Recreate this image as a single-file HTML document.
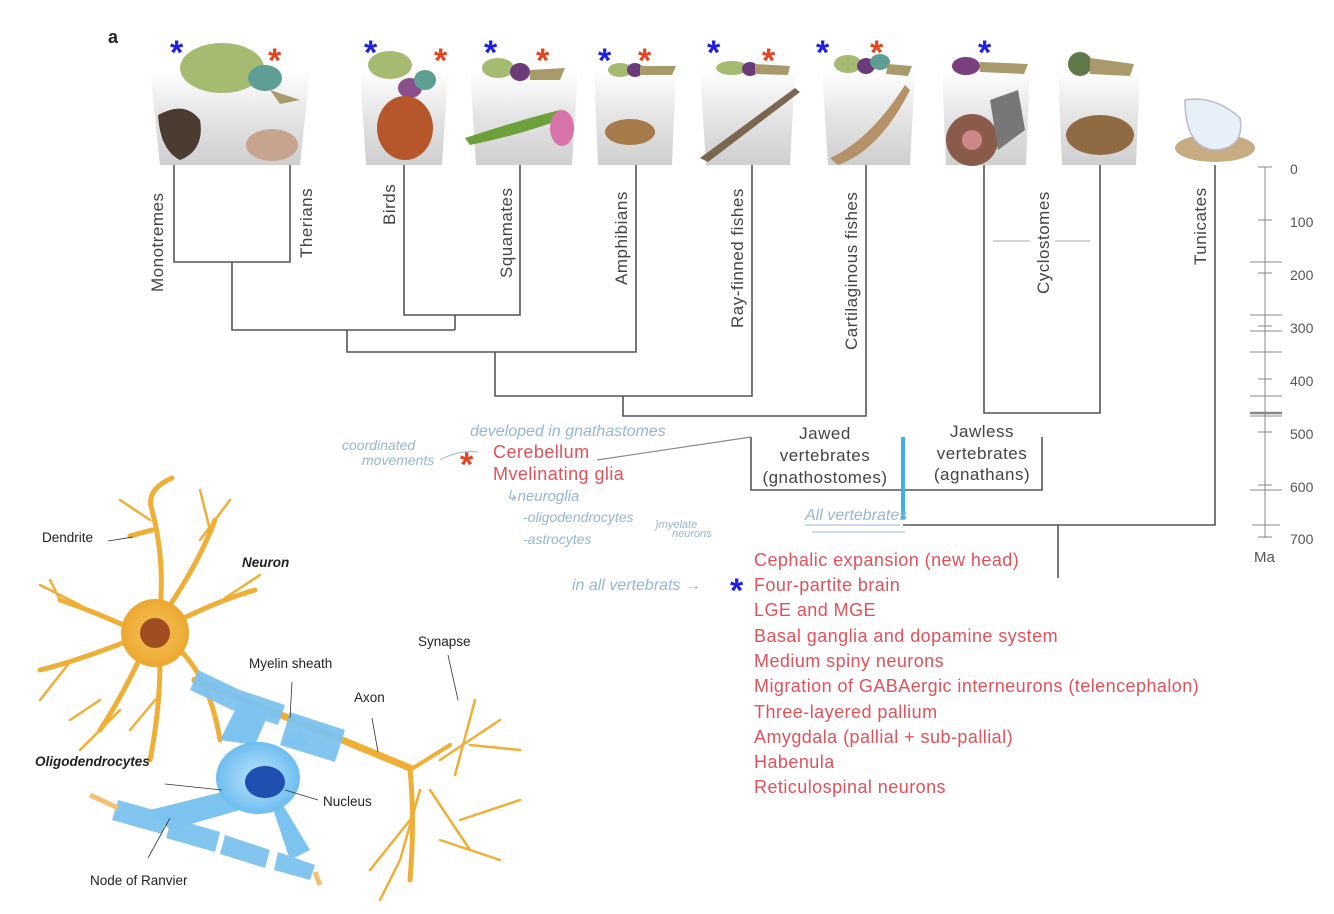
<!DOCTYPE html>
<html><head><meta charset="utf-8"><style>
html,body{margin:0;padding:0;background:#fff;}
body{width:1334px;height:914px;overflow:hidden;font-family:"Liberation Sans",sans-serif;}
svg{display:block}
.lab{font-size:17px;fill:#444;letter-spacing:0.5px;}
.red{font-size:18px;fill:#e0515a;letter-spacing:0.45px;}
.hand{font-family:"Liberation Sans",sans-serif;font-style:italic;fill:#95b6d2;font-size:15px;}
.nl{font-size:13.5px;fill:#222;}
</style></head><body>
<svg width="1334" height="914" viewBox="0 0 1334 914" xmlns="http://www.w3.org/2000/svg">
<defs>
<linearGradient id="pan" x1="0" y1="0" x2="0" y2="1">
<stop offset="0" stop-color="#fff"/><stop offset="0.5" stop-color="#e4e4e4"/><stop offset="1" stop-color="#cfcfcf"/>
</linearGradient>
<radialGradient id="soma" cx="0.5" cy="0.5" r="0.5"><stop offset="0" stop-color="#f7c25a"/><stop offset="1" stop-color="#eba830"/></radialGradient>
<radialGradient id="oli" cx="0.5" cy="0.5" r="0.5"><stop offset="0" stop-color="#bfe3fb"/><stop offset="1" stop-color="#6cbdf0"/></radialGradient>
</defs>
<text x="108" y="43" font-size="18" font-weight="bold" fill="#222">a</text>

<g fill="url(#pan)">
<path d="M150 70 L310 70 L300 165 L160 165Z"/>
<path d="M360 70 L448 70 L442 165 L366 165Z"/>
<path d="M470 70 L578 70 L572 165 L476 165Z"/>
<path d="M594 70 L676 70 L672 165 L598 165Z"/>
<path d="M700 70 L795 70 L790 165 L706 165Z"/>
<path d="M822 70 L915 70 L910 165 L828 165Z"/>
<path d="M942 70 L1030 70 L1026 165 L946 165Z"/>
<path d="M1058 70 L1140 70 L1136 165 L1062 165Z"/>
</g>
<ellipse cx="222" cy="68" rx="42" ry="25" fill="#a5bb72"/>
<ellipse cx="265" cy="78" rx="17" ry="13" fill="#5f9e95"/>
<path d="M270 90 L300 100 L280 104Z" fill="#a89a6a"/>
<ellipse cx="390" cy="65" rx="22" ry="14" fill="#a5bb72"/><ellipse cx="410" cy="88" rx="12" ry="10" fill="#8a4f8c"/><ellipse cx="425" cy="80" rx="11" ry="10" fill="#5f9e95"/>
<ellipse cx="498" cy="68" rx="16" ry="10" fill="#a5bb72"/><ellipse cx="520" cy="72" rx="10" ry="9" fill="#6a3b78"/><path d="M530 70 L565 68 L560 80 L530 80Z" fill="#a89a6a"/>
<ellipse cx="620" cy="70" rx="12" ry="7" fill="#a5bb72"/><ellipse cx="635" cy="70" rx="8" ry="7" fill="#6a3b78"/><path d="M640 66 L676 66 L672 75 L640 75Z" fill="#a89a6a"/>
<ellipse cx="732" cy="68" rx="16" ry="7" fill="#a5bb72"/><ellipse cx="750" cy="69" rx="8" ry="7" fill="#6a3b78"/><path d="M755 64 L790 66 L788 75 L755 74Z" fill="#a89a6a"/>
<ellipse cx="848" cy="64" rx="14" ry="9" fill="#a5bb72"/><ellipse cx="866" cy="66" rx="9" ry="8" fill="#6a3b78"/><ellipse cx="880" cy="62" rx="10" ry="8" fill="#5f9e95"/><path d="M888 64 L912 66 L908 76 L886 74Z" fill="#a89a6a"/>
<ellipse cx="966" cy="66" rx="14" ry="9" fill="#7a3f7e"/><path d="M980 62 L1028 64 L1024 74 L980 72Z" fill="#a89a6a"/>
<ellipse cx="1080" cy="64" rx="12" ry="12" fill="#5f7a4a"/><path d="M1090 58 L1134 64 L1130 76 L1090 74Z" fill="#a89a6a"/>
<path d="M158 115 Q185 100 200 120 Q205 150 180 160 Q160 150 158 115Z" fill="#4a3c30"/>
<ellipse cx="272" cy="145" rx="26" ry="16" fill="#c7a48f"/>
<ellipse cx="405" cy="128" rx="28" ry="32" fill="#b5562b"/>
<path d="M465 138 Q520 120 560 110 L565 118 Q520 135 470 145Z" fill="#6ba03a"/><ellipse cx="562" cy="128" rx="12" ry="18" fill="#d773a8"/>
<ellipse cx="630" cy="132" rx="25" ry="13" fill="#a67a4a"/>
<path d="M700 158 L795 88 L800 92 L708 162Z" fill="#7b6650"/>
<path d="M830 158 Q870 140 905 85 L910 90 Q880 150 838 165Z" fill="#b5916a"/>
<ellipse cx="972" cy="140" rx="26" ry="26" fill="#8a5a4a"/><ellipse cx="972" cy="140" rx="10" ry="10" fill="#c88"/><path d="M990 100 L1018 90 L1025 130 L998 150Z" fill="#777"/>
<ellipse cx="1100" cy="135" rx="34" ry="20" fill="#8f6a42"/>
<ellipse cx="1215" cy="148" rx="40" ry="14" fill="#c6ab83"/><path d="M1185 100 Q1215 95 1240 118 Q1245 148 1215 150 Q1185 148 1185 100Z" fill="#e7f0f8" stroke="#bbc" stroke-width="1.5"/>
<g font-size="34" font-weight="bold">
<text x="170" y="64" fill="#1f1fe8">*</text><text x="268" y="72" fill="#e8421f">*</text>
<text x="364" y="64" fill="#1f1fe8">*</text><text x="434" y="72" fill="#e8421f">*</text>
<text x="484" y="64" fill="#1f1fe8">*</text><text x="536" y="72" fill="#e8421f">*</text>
<text x="598" y="72" fill="#1f1fe8">*</text><text x="638" y="72" fill="#e8421f">*</text>
<text x="707" y="64" fill="#1f1fe8">*</text><text x="762" y="72" fill="#e8421f">*</text>
<text x="816" y="64" fill="#1f1fe8">*</text><text x="870" y="64" fill="#e8421f">*</text>
<text x="978" y="64" fill="#1f1fe8">*</text>
</g>

<g stroke="#555" stroke-width="1.6" fill="none">
<path d="M174 165 V262 H290 V165"/>
<path d="M232 262 V330 H455"/>
<path d="M404 165 V315 H520 V165"/><path d="M455 315 V330"/>
<path d="M347 330 V352 H636 V165"/>
<path d="M495 352 V396 H752 V165"/>
<path d="M623 396 V416 H866 V165"/>
<path d="M751 437 V490 H1042 V437"/>
<path d="M984 165 V413 H1100 V165"/>
<path d="M903 525 H1215 V165"/>
<path d="M1058 525 V578"/>
</g>
<path d="M597 460 L751 437" stroke="#888" stroke-width="1.2"/>
<path d="M993 241 H1030 M1055 241 H1090" stroke="#aaa" stroke-width="1"/>
<path d="M903 437 V520" stroke="#3db0e8" stroke-width="4"/>
<g class="lab">
<text transform="translate(163,292) rotate(-90)">Monotremes</text>
<text transform="translate(312,258) rotate(-90)">Therians</text>
<text transform="translate(395,225) rotate(-90)">Birds</text>
<text transform="translate(512,278) rotate(-90)">Squamates</text>
<text transform="translate(627,285) rotate(-90)">Amphibians</text>
<text transform="translate(743,328) rotate(-90)">Ray-finned fishes</text>
<text transform="translate(857,350) rotate(-90)">Cartilaginous fishes</text>
<text transform="translate(1049,294) rotate(-90)">Cyclostomes</text>
<text transform="translate(1206,265) rotate(-90)">Tunicates</text>
<text x="825" y="439" text-anchor="middle">Jawed</text>
<text x="825" y="461" text-anchor="middle">vertebrates</text>
<text x="825" y="483" text-anchor="middle">(gnathostomes)</text>
<text x="982" y="437" text-anchor="middle">Jawless</text>
<text x="982" y="459" text-anchor="middle">vertebrates</text>
<text x="982" y="480" text-anchor="middle">(agnathans)</text>
</g>
<g stroke="#888" stroke-width="1">
<path d="M1265 167 V538"/>
<path d="M1258 167 H1272 M1258 220 H1272 M1258 273 H1272 M1258 326 H1272 M1258 379 H1272 M1258 432 H1272 M1258 485 H1272 M1258 537 H1272"/>
<path d="M1250 262 H1282 M1250 315 H1282 M1250 331 H1282 M1250 352 H1282 M1250 396 H1282 M1250 416 H1282 M1250 490 H1282 M1252 525 H1280"/>
<path d="M1250 413 H1282" stroke-width="2.5"/>
</g>
<g font-size="14" fill="#555">
<text x="1290" y="174">0</text><text x="1290" y="227">100</text><text x="1290" y="280">200</text><text x="1290" y="333">300</text><text x="1290" y="386">400</text><text x="1290" y="439">500</text><text x="1290" y="492">600</text><text x="1290" y="544">700</text>
<text x="1254" y="562" font-size="15">Ma</text>
</g>

<text x="493" y="458" class="red">Cerebellum</text>
<text x="493" y="480" class="red">Mvelinating glia</text>
<text x="460" y="476" font-size="34" font-weight="bold" fill="#e8421f">*</text>
<g class="red">
<text x="754" y="566">Cephalic expansion (new head)</text>
<text x="754" y="591">Four-partite brain</text>
<text x="754" y="616">LGE and MGE</text>
<text x="754" y="642">Basal ganglia and dopamine system</text>
<text x="754" y="667">Medium spiny neurons</text>
<text x="754" y="692">Migration of GABAergic interneurons (telencephalon)</text>
<text x="754" y="718">Three-layered pallium</text>
<text x="754" y="743">Amygdala (pallial + sub-pallial)</text>
<text x="754" y="768">Habenula</text>
<text x="754" y="793">Reticulospinal neurons</text>
</g>
<text x="730" y="602" font-size="34" font-weight="bold" fill="#1f1fe8">*</text>
<g class="hand">
<text x="470" y="436" font-size="16">developed in gnathastomes</text>
<text x="342" y="450" font-size="14">coordinated</text>
<text x="362" y="465" font-size="14">movements</text>
<path d="M440 460 Q458 450 478 452" stroke="#95b6d2" fill="none"/>
<text x="505" y="501" font-size="15">↳neuroglia</text>
<text x="523" y="522" font-size="14">-oligodendrocytes</text>
<text x="523" y="544" font-size="14">-astrocytes</text>
<text x="655" y="528" font-size="11">}myelate</text><text x="672" y="537" font-size="11">neurons</text>
<text x="805" y="520" font-size="16">All vertebrates</text>
<path d="M805 525 H900 M812 532 H905" stroke="#95b6d2"/>
<text x="572" y="590" font-size="16">in all  vertebrats →</text>
</g>

<g stroke="#efae36" fill="none" stroke-linecap="round">
<g stroke-width="5">
<path d="M160 610 Q165 560 152 510 Q145 490 172 478"/>
<path d="M152 530 L130 536"/>
<path d="M170 605 Q200 560 215 520"/>
<path d="M180 620 Q220 600 255 590"/>
<path d="M130 628 Q90 610 60 600"/>
<path d="M130 640 Q80 660 40 670"/>
<path d="M140 658 Q120 700 100 730"/>
<path d="M160 660 Q160 710 150 760"/>
<path d="M180 650 Q210 680 220 740"/>
</g>
<g stroke-width="2.5">
<path d="M80 605 L40 585 M60 600 L50 580 M70 662 L40 700 M120 710 L80 750 M155 700 L130 730 M200 540 L230 500 M210 530 L200 490 M225 598 L260 575 M150 520 L120 500 M100 700 L70 720"/>
<path d="M455 775 L475 700 M440 760 L500 720 M470 745 L520 750 M430 790 L470 850 M420 790 L400 860 M410 820 L370 870 M460 820 L520 800 M440 840 L500 860 M400 860 L380 900"/>
</g>
<path d="M410 770 Q415 820 410 880" stroke-width="5"/>
<path d="M410 770 L450 745" stroke-width="4"/>
<path d="M195 680 L330 735 L410 768" stroke-width="7"/>
</g>
<circle cx="155" cy="633" r="34" fill="url(#soma)"/>
<circle cx="155" cy="633" r="15" fill="#a04d22"/>
<path d="M220 740 L240 700 L270 710 L255 745 Z M280 745 L300 730 L310 745 Z M230 790 L150 810 L170 830 L240 810 Z M270 800 L290 860 L310 850 L280 800Z" fill="#7cc3f0"/>
<ellipse cx="258" cy="778" rx="42" ry="36" fill="url(#oli)"/>
<ellipse cx="265" cy="782" rx="20" ry="16" fill="#1f4fb0"/>
<g fill="#7cc3f0" opacity="0.95">
<path d="M198 670 L240 690 L232 710 L190 690Z"/>
<path d="M240 690 L285 705 L278 725 L232 710Z"/>
<path d="M290 712 L345 730 L335 762 L280 745Z"/>
<path d="M118 800 L168 814 L162 834 L112 820Z"/>
<path d="M172 818 L220 832 L215 852 L166 838Z"/>
<path d="M225 835 L270 850 L265 868 L220 854Z"/>
<path d="M278 852 L315 865 L310 880 L274 870Z"/>
</g>
<path d="M90 795 L118 808 M315 872 L320 885" stroke="#f2c070" stroke-width="5"/>
<g stroke="#333" stroke-width="0.8" fill="none">
<path d="M108 541 L133 537 M292 682 L290 718 M372 718 L378 752 M448 655 L458 700 M165 784 L222 790 M285 790 L318 800 M170 818 L148 858"/>
</g>
<g class="nl">
<text x="42" y="542">Dendrite</text>
<text x="242" y="567" font-weight="bold" font-style="italic">Neuron</text>
<text x="249" y="668">Myelin sheath</text>
<text x="418" y="646">Synapse</text>
<text x="354" y="702">Axon</text>
<text x="35" y="766" font-weight="bold" font-style="italic">Oligodendrocytes</text>
<text x="323" y="806">Nucleus</text>
<text x="90" y="885">Node of Ranvier</text>
</g>
</svg>
</body></html>
